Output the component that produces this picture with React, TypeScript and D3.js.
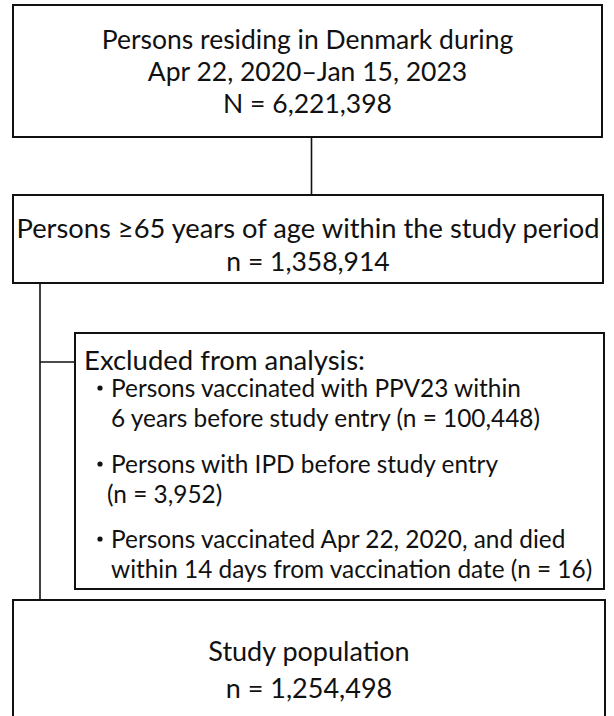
import React from 'react';
import * as d3 from 'd3';

// Flow steps and counts
const stepTitles = [
  ['Persons residing in Denmark during', 'Apr 22, 2020\u2013Jan 15, 2023'],
  ['Persons \u226565 years of age within the study period'],
  ['Study population'],
];
const stepLabels = ['N', 'n', 'n'];
const stepCounts = [6221398, 1358914, 1254498];

const excludedTitle = 'Excluded from analysis:';
const excludedLines = [
  ['Persons vaccinated with PPV23 within', '6 years before study entry'],
  ['Persons with IPD before study entry', ''],
  ['Persons vaccinated Apr 22, 2020, and died', 'within 14 days from vaccination date'],
];
const excludedCounts = [100448, 3952, 16];

const fmt = d3.format(',');
const FONT = 'Lato, "Open Sans", sans-serif';

const App = () => {
  const W = 614;
  const H = 716;
  const stroke = '#111';

  // box geometry
  const box1 = { x: 13, y: 5, w: 589, h: 132 };
  const box2 = { x: 13, y: 195, w: 590, h: 88 };
  const box3 = { x: 75, y: 333, w: 529, h: 256 };
  const box4 = { x: 13, y: 600, w: 592, h: 130 };
  const spineX = 40;
  const cx = box1.x + box1.w / 2;

  // line spacing inside boxes
  const lineY = d3.scaleLinear().domain([0, 1]).range([0, 32]);

  return (
    <svg width={W} height={H} style={{ position: 'absolute', left: 0, top: 0, background: '#fff' }}>
      <g fill="none" stroke={stroke} strokeWidth={2}>
        <rect x={box1.x} y={box1.y} width={box1.w} height={box1.h} />
        <rect x={box2.x} y={box2.y} width={box2.w} height={box2.h} />
        <rect x={box3.x} y={box3.y} width={box3.w} height={box3.h} />
        <rect x={box4.x} y={box4.y} width={box4.w} height={box4.h} />
        <line x1={cx + 4} x2={cx + 4} y1={box1.y + box1.h} y2={box2.y} strokeWidth={1.6} />
        <line x1={spineX} x2={spineX} y1={box2.y + box2.h} y2={box4.y} strokeWidth={1.6} />
        <line x1={spineX} x2={box3.x} y1={362} y2={362} strokeWidth={1.6} />
      </g>

      <g fontFamily={FONT} fill="#111" textAnchor="middle">
        {/* box 1 */}
        <g fontSize={26.5}>
          {[...stepTitles[0], `${stepLabels[0]} = ${fmt(stepCounts[0])}`].map((t, i) => (
            <text key={i} x={cx} y={49 + lineY(i)}>{t}</text>
          ))}
        </g>
        {/* box 2 */}
        <g fontSize={26.5}>
          <text x={box2.x + box2.w / 2} y={238} textLength={583} lengthAdjust="spacingAndGlyphs">
            {stepTitles[1][0]}
          </text>
          <text x={box2.x + box2.w / 2} y={271}>{`${stepLabels[1]} = ${fmt(stepCounts[1])}`}</text>
        </g>
        {/* box 4 */}
        <g fontSize={27}>
          <text x={box4.x + box4.w / 2} y={661}>{stepTitles[2][0]}</text>
          <text x={box4.x + box4.w / 2} y={698}>{`${stepLabels[2]} = ${fmt(stepCounts[2])}`}</text>
        </g>
      </g>

      {/* exclusions */}
      <g fontFamily={FONT} fill="#111">
        <text x={84} y={370} fontSize={27.5}>{excludedTitle}</text>
        {excludedLines.map((lines, i) => {
          const y0 = [397, 473, 548][i];
          const n = `(n = ${fmt(excludedCounts[i])})`;
          const second = lines[1] ? `${lines[1]} ${n}` : n;
          return (
            <g key={i} fontSize={24.4}>
              <circle cx={100} cy={y0 - 9} r={2.6} fill="#111" />
              <text x={111} y={y0}>{lines[0]}</text>
              <text x={lines[1] ? 111 : 107} y={y0 + 30}>{second}</text>
            </g>
          );
        })}
      </g>
    </svg>
  );
};

export default App;
